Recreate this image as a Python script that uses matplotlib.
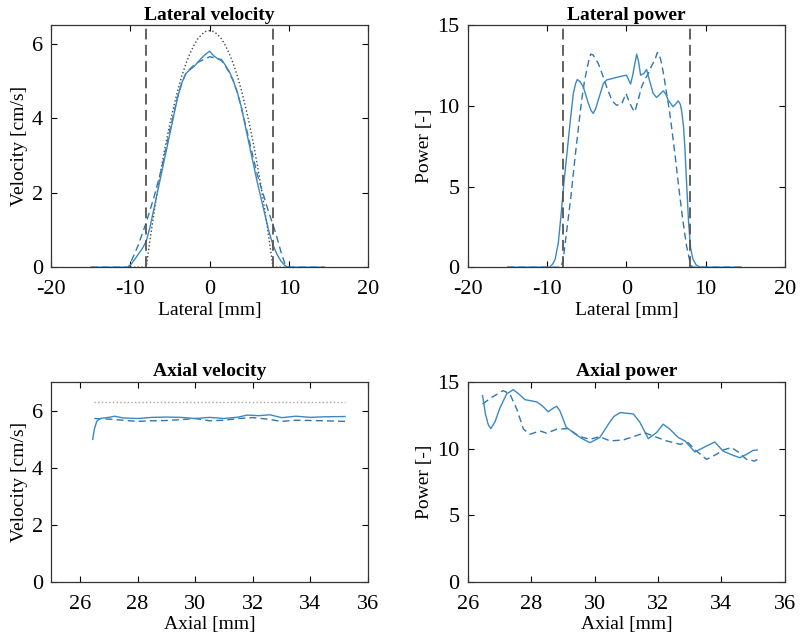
import numpy as np
import matplotlib
matplotlib.use("Agg")
import matplotlib.pyplot as plt

plt.rcParams["font.family"] = ["Liberation Serif", "DejaVu Serif"]
plt.rcParams["font.size"] = 14
plt.rcParams["axes.unicode_minus"] = False

BLUE = "#3b88c3"
BLUE_D = "#2f77ad"

# --- Lateral velocity ---
lat_x = [-15, -12, -10.3, -10.2, -9.5, -9, -8.5, -8, -7.5, -7, -6.5, -6, -5.5, -5, -4.5, -4,
         -3.5, -3, -2.5, -2, -1.5, -1, -0.5, 0, 0.5, 1, 1.5, 2, 2.5, 3, 3.5, 4,
         4.5, 5, 5.5, 6, 6.5, 7, 7.5, 8, 8.5, 9, 9.5, 9.8, 10, 12, 14.5]
vel_solid = [0, 0, 0, 0, 0.2, 0.35, 0.5, 0.7, 1.1, 1.6, 2.1, 2.6, 3.1, 3.6, 4.1, 4.6,
             4.95, 5.2, 5.3, 5.38, 5.5, 5.62, 5.72, 5.8, 5.68, 5.6, 5.58, 5.42, 5.25, 5.0, 4.7, 4.3,
             3.8, 3.3, 2.8, 2.3, 1.85, 1.4, 0.95, 0.6, 0.35, 0.17, 0.05, 0, 0, 0, 0]
vel_dash = [0, 0, 0, 0.02, 0.35, 0.6, 0.9, 1.2, 1.55, 1.9, 2.3, 2.7, 3.2, 3.7, 4.15, 4.6,
            4.95, 5.2, 5.32, 5.42, 5.5, 5.55, 5.6, 5.65, 5.63, 5.6, 5.55, 5.4, 5.22, 5.0, 4.68, 4.3,
            3.85, 3.4, 2.95, 2.5, 2.15, 1.8, 1.45, 1.15, 0.8, 0.42, 0.1, 0.03, 0, 0, 0]
par_x = [-10, -8, -7.5, -7, -6.5, -6, -5.5, -5, -4.5, -4, -3.5, -3, -2.5, -2, -1.5, -1, -0.5, 0,
         0.5, 1, 1.5, 2, 2.5, 3, 3.5, 4, 4.5, 5, 5.5, 6, 6.5, 7, 7.5, 8, 10]
par_v = [0, 0, 0.77, 1.49, 2.16, 2.78, 3.35, 3.87, 4.34, 4.76, 5.14, 5.46, 5.73, 5.95, 6.13, 6.25, 6.33, 6.35,
         6.33, 6.25, 6.13, 5.95, 5.73, 5.46, 5.14, 4.76, 4.34, 3.87, 3.35, 2.78, 2.16, 1.49, 0.77, 0, 0]

# --- Lateral power ---
lp_x_solid = [-15, -12, -9.7, -9.3, -9.0, -8.6, -8.2, -7.9, -7.55, -7.1, -6.7, -6.4, -6.2, -5.85, -5.45,
              -4.8, -4.45, -4.19, -3.9, -3.56, -2.9, -2.5, -1.24, -0.5, 0.02, 0.53, 0.8, 1.07, 1.3,
              1.55, 1.79, 2.2, 2.55, 2.9, 3.38, 3.8, 4.2, 4.65, 5.0, 5.28, 5.9, 6.2, 6.54, 6.8,
              6.96, 7.2, 7.38, 7.6, 7.85, 8.1, 8.4, 8.8, 9.3, 11, 14.5]
lp_solid = [0, 0, 0, 0.2, 0.5, 1.5, 3.5, 5.2, 6.84, 9.0, 10.77, 11.4, 11.63, 11.5, 11.18,
            10.15, 9.7, 9.53, 9.8, 10.35, 11.39, 11.6, 11.76, 11.85, 11.9, 11.35, 11.9, 12.63, 13.2,
            12.7, 11.9, 12.0, 12.25, 11.6, 10.77, 10.52, 10.7, 10.93, 10.7, 10.35, 9.94, 10.1, 10.31, 10.1,
            9.73, 8.8, 7.46, 5.2, 2.8, 1.2, 0.5, 0.15, 0, 0, 0]
lp_x_dash = [-15, -10, -8.3, -8.0, -7.6, -7.0, -6.5, -6.0, -5.65, -5.3, -5.02, -4.75, -4.5, -4.2,
             -3.9, -3.56, -3.0, -2.5, -1.8, -1.24, -0.6, -0.06, 0.44, 0.8, 1.07, 1.4, 1.92, 2.3, 2.76,
             3.2, 3.6, 3.9, 4.15, 4.44, 4.75, 5.07, 5.4, 5.7, 6.12, 6.6, 7.1, 7.6, 8.0, 8.3, 10, 14.5]
lp_dash = [0, 0, 0, 0.4, 2.0, 4.4, 6.74, 8.9, 10.35, 11.5, 12.2, 12.8, 13.2, 13.15,
           12.9, 12.63, 11.9, 11.18, 10.3, 10.04, 10.1, 10.77, 10.15, 9.8, 9.63, 10.2, 11.18, 11.6, 12.0,
           12.5, 12.83, 13.3, 13.2, 12.63, 11.8, 10.77, 9.8, 8.7, 7.05, 5.0, 3.0, 1.3, 0.4, 0, 0, 0]

# --- Axial velocity ---
ax_x = [26.44, 26.5, 26.58, 26.7, 27.0, 27.2, 27.5, 28.0, 28.5, 29.0, 29.5, 30.0, 30.5, 31.0,
        31.5, 31.8, 32.2, 32.6, 33.0, 33.5, 34.0, 34.5, 35.2]
av_solid = [4.99, 5.35, 5.62, 5.72, 5.76, 5.8, 5.74, 5.72, 5.76, 5.77, 5.76, 5.72, 5.76, 5.72,
            5.77, 5.84, 5.82, 5.85, 5.75, 5.8, 5.76, 5.78, 5.79]
ax_x_dash = [26.5, 27.0, 27.5, 28.0, 28.5, 29.0, 29.5, 30.0, 30.5, 31.0, 31.5, 32.0, 32.5,
             33.0, 33.5, 34.0, 34.5, 35.2]
av_dash = [5.72, 5.7, 5.66, 5.62, 5.64, 5.65, 5.68, 5.72, 5.64, 5.66, 5.72, 5.75, 5.7,
           5.62, 5.66, 5.65, 5.64, 5.62]
ref_x = [26.5, 35.2]
ref_v = [6.3, 6.3]

# --- Axial power ---
ap_x_solid = [26.46, 26.55, 26.64, 26.72, 26.85, 27.0, 27.22, 27.43, 27.6, 27.8, 28.17, 28.35, 28.53,
              28.7, 28.8, 28.9, 29.1, 29.38, 29.6, 29.85, 30.16, 30.43, 30.6, 30.8, 31.22, 31.43,
              31.69, 31.95, 32.16, 32.37, 32.64, 32.85, 33.16, 33.53, 33.79, 34.05, 34.37, 34.58,
              34.79, 35.0, 35.13]
ap_solid = [13.97, 12.6, 11.8, 11.5, 12.0, 13.0, 14.1, 14.42, 14.1, 13.67, 13.5, 13.2, 12.76,
            13.05, 13.17, 12.84, 11.6, 11.1, 10.75, 10.45, 10.83, 11.83, 12.4, 12.7, 12.6, 11.96,
            10.75, 11.2, 11.83, 11.46, 10.83, 10.58, 9.75, 10.2, 10.5, 9.82, 9.5, 9.32,
            9.57, 9.87, 9.9]
ap_x_dash = [26.46, 26.75, 27.11, 27.32, 27.54, 27.75, 27.96, 28.27, 28.48, 28.8, 29.16, 29.53,
             29.85, 30.16, 30.48, 30.9, 31.22, 31.58, 31.84, 32.27, 32.69, 32.95, 33.21, 33.53,
             33.84, 34.05, 34.32, 34.53, 34.79, 35.05, 35.13]
ap_dash = [13.34, 13.84, 14.35, 14.1, 12.96, 11.46, 11.08, 11.33, 11.16, 11.46, 11.5, 10.9,
           10.7, 10.9, 10.58, 10.65, 10.9, 11.2, 10.95, 10.58, 10.33, 10.45, 9.82, 9.2,
           9.57, 9.9, 10.08, 9.75, 9.2, 9.07, 9.2]


def style(ax, title, xlabel, ylabel):
    ax.set_title(title, fontweight="bold", fontsize=14, pad=4)
    ax.set_xlabel(xlabel, labelpad=2)
    ax.set_ylabel(ylabel, labelpad=3)
    ax.tick_params(direction="in", top=True, right=True, length=4, labelsize=16)
    ax.tick_params(axis="x", pad=9)
    ax.tick_params(axis="y", pad=6)
    for s in ax.spines.values():
        s.set_linewidth(0.9)
        s.set_color("#333333")


fig = plt.figure(figsize=(8, 6.44), dpi=100)
ax1 = fig.add_axes([0.064, 0.585, 0.396, 0.376])
ax2 = fig.add_axes([0.585, 0.585, 0.396, 0.376])
ax3 = fig.add_axes([0.064, 0.096, 0.396, 0.311])
ax4 = fig.add_axes([0.585, 0.096, 0.396, 0.311])

# Lateral velocity
ax1.plot(par_x, par_v, ":", color="#444444", lw=1.0)
ax1.plot(lat_x, vel_dash, "--", color=BLUE_D, lw=1.0, dashes=(5, 3))
ax1.plot(lat_x, vel_solid, "-", color=BLUE, lw=1.0)
for xv in (-8, 8):
    ax1.axvline(xv, color="#555555", lw=1.3, ls="--", dashes=(6, 3))
ax1.set_xlim(-20, 20)
ax1.set_ylim(0, 6.5)
ax1.set_xticks([-20, -10, 0, 10, 20])
ax1.set_yticks([0, 2, 4, 6])
style(ax1, "Lateral velocity", "Lateral [mm]", "Velocity [cm/s]")

# Lateral power
ax2.plot(lp_x_dash, lp_dash, "--", color=BLUE_D, lw=1.0, dashes=(5, 3))
ax2.plot(lp_x_solid, lp_solid, "-", color=BLUE, lw=1.0)
for xv in (-8, 8):
    ax2.axvline(xv, color="#555555", lw=1.3, ls="--", dashes=(6, 3))
ax2.set_xlim(-20, 20)
ax2.set_ylim(0, 15)
ax2.set_xticks([-20, -10, 0, 10, 20])
ax2.set_yticks([0, 5, 10, 15])
style(ax2, "Lateral power", "Lateral [mm]", "Power [-]")

# Axial velocity
ax3.plot(ref_x, ref_v, ":", color="#c09a9a", lw=1.0)
ax3.plot(ax_x_dash, av_dash, "--", color=BLUE_D, lw=1.0, dashes=(5, 3))
ax3.plot(ax_x, av_solid, "-", color=BLUE, lw=1.0)
ax3.set_xlim(25, 36)
ax3.set_ylim(0, 7)
ax3.set_xticks([26, 28, 30, 32, 34, 36])
ax3.set_yticks([0, 2, 4, 6])
style(ax3, "Axial velocity", "Axial [mm]", "Velocity [cm/s]")

# Axial power
ax4.plot(ap_x_dash, ap_dash, "--", color=BLUE_D, lw=1.0, dashes=(5, 3))
ax4.plot(ap_x_solid, ap_solid, "-", color=BLUE, lw=1.0)
ax4.set_xlim(26, 36)
ax4.set_ylim(0, 15)
ax4.set_xticks([26, 28, 30, 32, 34, 36])
ax4.set_yticks([0, 5, 10, 15])
style(ax4, "Axial power", "Axial [mm]", "Power [-]")

fig.savefig("out.png", dpi=100)
